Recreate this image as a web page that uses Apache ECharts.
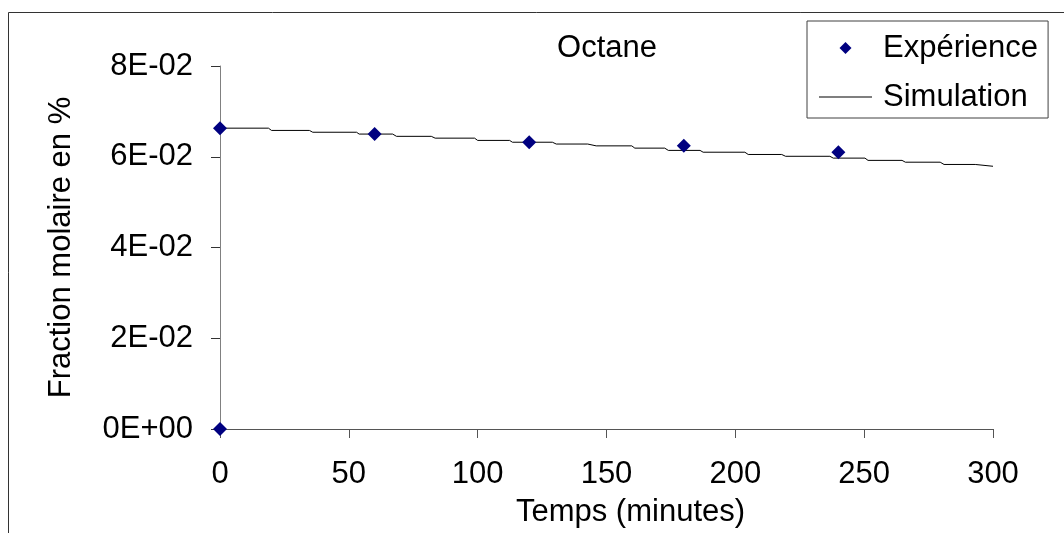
<!DOCTYPE html>
<html>
<head>
<meta charset="utf-8">
<script src="https://cdn.jsdelivr.net/npm/echarts@6/dist/echarts.min.js"></script>
<style>
html,body{margin:0;padding:0;background:#fff;}
#chart{width:1064px;height:533px;}
</style>
</head>
<body>
<div id="chart"></div>
<script>
// ---- data ----
const chartTitle = 'Octane';
const xAxisName = 'Temps (minutes)';
const yAxisName = 'Fraction molaire en %';
const xTickLabels = ['0', '50', '100', '150', '200', '250', '300'];
const yTickLabels = ['0E+00', '2E-02', '4E-02', '6E-02', '8E-02'];

const expName = 'Expérience';
const expTime  = [0, 0, 60, 120, 180, 240];
const expValue = [0, 0.0663, 0.0650, 0.0632, 0.0624, 0.0610];

const simName = 'Simulation';
const simTime  = [0, 18.8, 20, 34.7, 36, 53, 54, 67, 68.5, 82, 83.5, 98.8, 100, 112.4, 113.5, 129,
                  130.5, 142.7, 146, 159.8, 161, 172.6, 174, 186.3, 187.5, 203.7, 205, 218,
                  219.5, 236.7, 238, 250.3, 251.5, 264.7, 266, 279.5, 281, 293.1, 300];
const simValue = [0.0663, 0.0663, 0.0658, 0.0658, 0.0654, 0.0654, 0.0650, 0.0650, 0.0645, 0.0645,
                  0.0641, 0.0641, 0.0636, 0.0636, 0.0632, 0.0632, 0.0628, 0.0628, 0.0624, 0.0624,
                  0.0619, 0.0619, 0.0614, 0.0614, 0.0610, 0.0610, 0.0605, 0.0605, 0.0601, 0.0601,
                  0.0597, 0.0597, 0.0592, 0.0592, 0.0588, 0.0588, 0.0583, 0.0583, 0.0579];

// ---- build chart ----
const FONT = '"Liberation Sans", Arial, sans-serif';
const FS = 31;
const chart = echarts.init(document.getElementById('chart'), null, {renderer: 'canvas'});

const expData = expTime.map((t, i) => [t, expValue[i]]);
const simData = simTime.map((t, i) => [t, simValue[i]]);

chart.setOption({
  backgroundColor: '#ffffff',
  animation: false,
  textStyle: {fontFamily: FONT, color: '#000'},
  title: {
    text: chartTitle,
    left: 607, top: 33, textAlign: 'center', padding: 0,
    textStyle: {fontFamily: FONT, fontSize: FS, fontWeight: 'normal', color: '#000'}
  },
  legend: {
    orient: 'vertical',
    left: 807, top: 21,
    padding: [6, 10, 0, 12],
    itemWidth: 53, itemHeight: 12, itemGap: 7,
    borderColor: '#404040', borderWidth: 1,
    symbolKeepAspect: true,
    data: [
      {name: expName, icon: 'path://M5,0L10,5L5,10L0,5Z', itemStyle: {color: '#000080', opacity: 1}},
      {name: simName, icon: 'path://M0,0H53V1H0Z', itemStyle: {color: '#000', opacity: 1}}
    ],
    textStyle: {fontFamily: FONT, fontSize: FS, color: '#000', lineHeight: 30, padding: [0, 0, 12, 6]}
  },
  grid: {left: 220, right: 71, top: 66, bottom: 104, containLabel: false},
  xAxis: {
    type: 'value', min: 0, max: 300, interval: 50,
    name: xAxisName, nameLocation: 'middle', nameGap: 68,
    nameTextStyle: {fontFamily: FONT, fontSize: FS, color: '#000', padding: [0, 0, 0, 48]},
    axisLine: {show: true, lineStyle: {color: '#555', width: 1}},
    axisTick: {show: true, inside: false, length: 9, lineStyle: {color: '#555'}},
    axisLabel: {
      margin: 30, fontFamily: FONT, fontSize: FS, color: '#000',
      formatter: v => xTickLabels[Math.round(v / 50)]
    },
    splitLine: {show: false}
  },
  yAxis: {
    type: 'value', min: 0, max: 0.08, interval: 0.02,
    name: yAxisName, nameLocation: 'middle', nameGap: 143, nameRotate: 90,
    nameTextStyle: {fontFamily: FONT, fontSize: FS, color: '#000'},
    axisLine: {show: true, onZero: false, lineStyle: {color: '#808080', width: 1}},
    axisTick: {show: true, inside: false, length: 9, lineStyle: {color: '#333'}},
    axisLabel: {
      margin: 27, fontFamily: FONT, fontSize: FS, color: '#000',
      formatter: v => yTickLabels[Math.round(v / 0.02)]
    },
    splitLine: {show: false}
  },
  series: [
    {
      name: expName, type: 'scatter', data: expData, z: 4,
      symbol: 'diamond', symbolSize: 14,
      itemStyle: {color: '#000080', opacity: 1}
    },
    {
      name: simName, type: 'line', data: simData, z: 3,
      symbol: 'none', showSymbol: false,
      lineStyle: {color: '#000', width: 1},
      itemStyle: {color: '#000'}
    }
  ],
  graphic: [
    {type: 'line', shape: {x1: 8.5, y1: 12.5, x2: 1064, y2: 12.5}, style: {stroke: '#333', lineWidth: 1}, silent: true},
    {type: 'line', shape: {x1: 8.5, y1: 12.5, x2: 8.5, y2: 533}, style: {stroke: '#333', lineWidth: 1}, silent: true}
  ]
});
</script>
</body>
</html>
